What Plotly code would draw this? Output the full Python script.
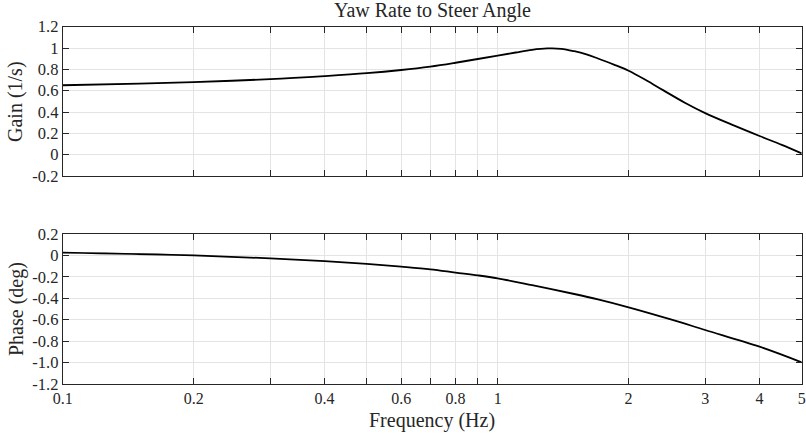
import plotly.graph_objects as go
import math

freq = [0.1, 0.15, 0.2, 0.3, 0.4, 0.5, 0.6, 0.7, 0.8, 0.9, 1.0, 1.1, 1.2, 1.3, 1.4, 1.5, 1.6, 1.7, 1.85, 2.0,
        2.2, 2.4, 2.7, 3.0, 3.5, 4.0, 4.5, 5.0]
gain = [0.651, 0.667, 0.681, 0.708, 0.737, 0.764, 0.794, 0.826, 0.862, 0.897, 0.928, 0.958, 0.983, 0.996, 0.993,
        0.970, 0.940, 0.902, 0.845, 0.787, 0.695, 0.605, 0.485, 0.390, 0.272, 0.175, 0.092, 0.012]
phase_f = [0.1, 0.2, 0.3, 0.4, 0.5, 0.6, 0.7, 0.8, 0.9, 1.0, 1.2, 1.5, 1.7, 2.0, 2.5, 3.0, 4.0, 5.0]
phase = [0.026, 0.0, -0.027, -0.054, -0.079, -0.105, -0.130, -0.160, -0.186, -0.214, -0.278, -0.360, -0.410,
         -0.484, -0.597, -0.696, -0.852, -0.998]

x_tickvals = [0.1, 0.2, 0.3, 0.4, 0.5, 0.6, 0.7, 0.8, 0.9, 1, 2, 3, 4, 5]
x_ticktext = ["0.1", "0.2", "", "0.4", "", "0.6", "", "0.8", "", "1", "2", "3", "4", "5"]
gain_ticks = [1.2, 1.0, 0.8, 0.6, 0.4, 0.2, 0, -0.2]
gain_text = ["1.2", "1", "0.8", "0.6", "0.4", "0.2", "0", "-0.2"]
phase_ticks = [0.2, 0, -0.2, -0.4, -0.6, -0.8, -1.0, -1.2]
phase_text = ["0.2", "0", "-0.2", "-0.4", "-0.6", "-0.8", "-1.0", "-1.2"]

title_text = "Yaw Rate to Steer Angle"
gain_label = "Gain (1/s)"
phase_label = "Phase (deg)"
freq_label = "Frequency (Hz)"

FONT = "Liberation Serif"
TXT = "#262626"
W, H = 806, 434

fig = go.Figure()
fig.add_trace(go.Scatter(x=freq, y=gain, mode="lines",
                         line=dict(color="black", width=1.8, shape="spline", smoothing=1.0),
                         xaxis="x", yaxis="y", showlegend=False))
fig.add_trace(go.Scatter(x=phase_f, y=phase, mode="lines",
                         line=dict(color="black", width=1.8, shape="spline", smoothing=1.0),
                         xaxis="x2", yaxis="y2", showlegend=False))

x0, x1 = 62.7 / W, 801.7 / W
common_x = dict(type="log", range=[-1, math.log10(5)], tickvals=x_tickvals, domain=[x0, x1],
                showgrid=True, gridcolor="#e4e4e4", gridwidth=1, ticks="inside", ticklen=6,
                tickcolor=TXT, showline=True, linecolor=TXT, linewidth=1, mirror="ticks",
                zeroline=False, automargin=False, tickfont=dict(family=FONT, size=16, color=TXT))
common_y = dict(showgrid=True, gridcolor="#e4e4e4", gridwidth=1, ticks="inside", ticklen=6,
                tickcolor=TXT, showline=True, linecolor=TXT, linewidth=1, mirror="ticks",
                zeroline=False, automargin=False, tickfont=dict(family=FONT, size=16.5, color=TXT))

fig.update_layout(
    width=W, height=H, margin=dict(l=0, r=0, t=0, b=0),
    paper_bgcolor="white", plot_bgcolor="white",
    font=dict(family=FONT, size=16.5, color=TXT),
    xaxis=dict(common_x, anchor="y", ticktext=[""] * len(x_tickvals)),
    yaxis=dict(common_y, domain=[1 - 176 / H, 1 - 26.7 / H], range=[-0.2, 1.2],
               tickvals=gain_ticks, ticktext=gain_text),
    xaxis2=dict(common_x, anchor="y2", ticktext=x_ticktext),
    yaxis2=dict(common_y, domain=[1 - 384 / H, 1 - 234 / H], range=[-1.2, 0.2],
                tickvals=phase_ticks, ticktext=phase_text),
    annotations=[
        dict(text=title_text, xref="paper", yref="paper", x=(x0 + x1) / 2, y=1 - 11 / H,
             xanchor="center", yanchor="middle", showarrow=False, font=dict(family=FONT, size=20, color=TXT)),
        dict(text=gain_label, xref="paper", yref="paper", x=16 / W, y=1 - 102 / H, textangle=-90,
             xanchor="center", yanchor="middle", showarrow=False, font=dict(family=FONT, size=20, color=TXT)),
        dict(text=phase_label, xref="paper", yref="paper", x=16 / W, y=1 - 309 / H, textangle=-90,
             xanchor="center", yanchor="middle", showarrow=False, font=dict(family=FONT, size=20, color=TXT)),
        dict(text=freq_label, xref="paper", yref="paper", x=(x0 + x1) / 2, y=1 - 420 / H,
             xanchor="center", yanchor="middle", showarrow=False, font=dict(family=FONT, size=20, color=TXT)),
    ],
)

fig.write_html("out.html")
